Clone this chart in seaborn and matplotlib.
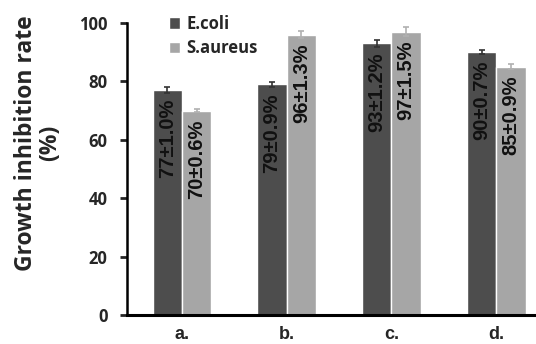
import numpy as np
import matplotlib.pyplot as plt
import pandas as pd
import seaborn as sns

# Chart data
samples = ["a.", "b.", "c.", "d."]
strains = ["E.coli", "S.aureus"]
ecoli_rate = [77, 79, 93, 90]
saureus_rate = [70, 96, 97, 85]
ecoli_err = [1.0, 0.9, 1.2, 0.7]
saureus_err = [0.6, 1.3, 1.5, 0.9]

df = pd.DataFrame({
    "sample": samples * 2,
    "strain": [strains[0]] * 4 + [strains[1]] * 4,
    "rate": ecoli_rate + saureus_rate,
    "err": ecoli_err + saureus_err,
})

sns.set_style("white")
plt.rcParams["font.family"] = ["Open Sans", "DejaVu Sans"]
plt.rcParams["font.weight"] = "bold"

fig = plt.figure(figsize=(5.36, 3.44), dpi=100)
ax = fig.add_axes([127 / 536, 1 - 315 / 344, 1 - 127 / 536, (315 - 23) / 344])

colors = ["#4d4d4d", "#a6a6a6"]
sns.barplot(data=df, x="sample", y="rate", hue="strain", palette=colors,
            errorbar=None, width=0.56, gap=0, saturation=1, ax=ax)

# Error bars and rotated value labels on each bar
err_colors = ["#333333", "#b0b0b0"]
bar_containers = list(ax.containers)
for i, container in enumerate(bar_containers):
    sub = df[df["strain"] == strains[i]]
    for bar, val, err in zip(container, sub["rate"], sub["err"]):
        cx = bar.get_x() + bar.get_width() / 2
        h = bar.get_height()
        ax.errorbar(cx, h, yerr=err, color=err_colors[i], capsize=2.5,
                    elinewidth=1.2, capthick=1.2, fmt="none")
        ax.text(cx, h - 3, f"{val:g}\u00b1{err:.1f}%", rotation=90,
                ha="center", va="top", fontsize=14.5,
                family="Liberation Sans", fontweight="bold", color="#111111")

ax.set_ylim(0, 100)
ax.set_xlim(-0.524, 3.38)
ax.set_yticks(range(0, 101, 20))
ax.set_xlabel("")
ax.set_ylabel("")
ax.tick_params(axis="y", which="major", direction="out", length=5, width=2,
               pad=9, labelsize=12, left=True)
ax.tick_params(axis="x", length=0, pad=8)
for lab in ax.get_xticklabels():
    lab.set_family("Liberation Sans")
    lab.set_fontsize(13)
    lab.set_fontweight("bold")
for lab in ax.get_yticklabels():
    lab.set_fontweight("bold")

sns.despine(ax=ax)
ax.spines["left"].set_linewidth(1.8)
ax.spines["bottom"].set_linewidth(2.2)
ax.spines["left"].set_color("black")
ax.spines["bottom"].set_color("black")

leg = ax.legend(loc="upper left", bbox_to_anchor=(162 / 536, 1 - 8 / 344),
                bbox_transform=fig.transFigure, frameon=False, fontsize=12,
                handlelength=0.7, handleheight=0.7, handletextpad=0.35,
                labelspacing=0.4, borderaxespad=0)
for t in leg.get_texts():
    t.set_fontweight("bold")

fig.text(38 / 536, 1 - 143 / 344, "Growth inhibition rate\n(%)", rotation=90,
         ha="center", va="center", multialignment="center", fontsize=16.5,
         fontweight="bold", linespacing=1.05)

fig.savefig("out.png", dpi=100)
